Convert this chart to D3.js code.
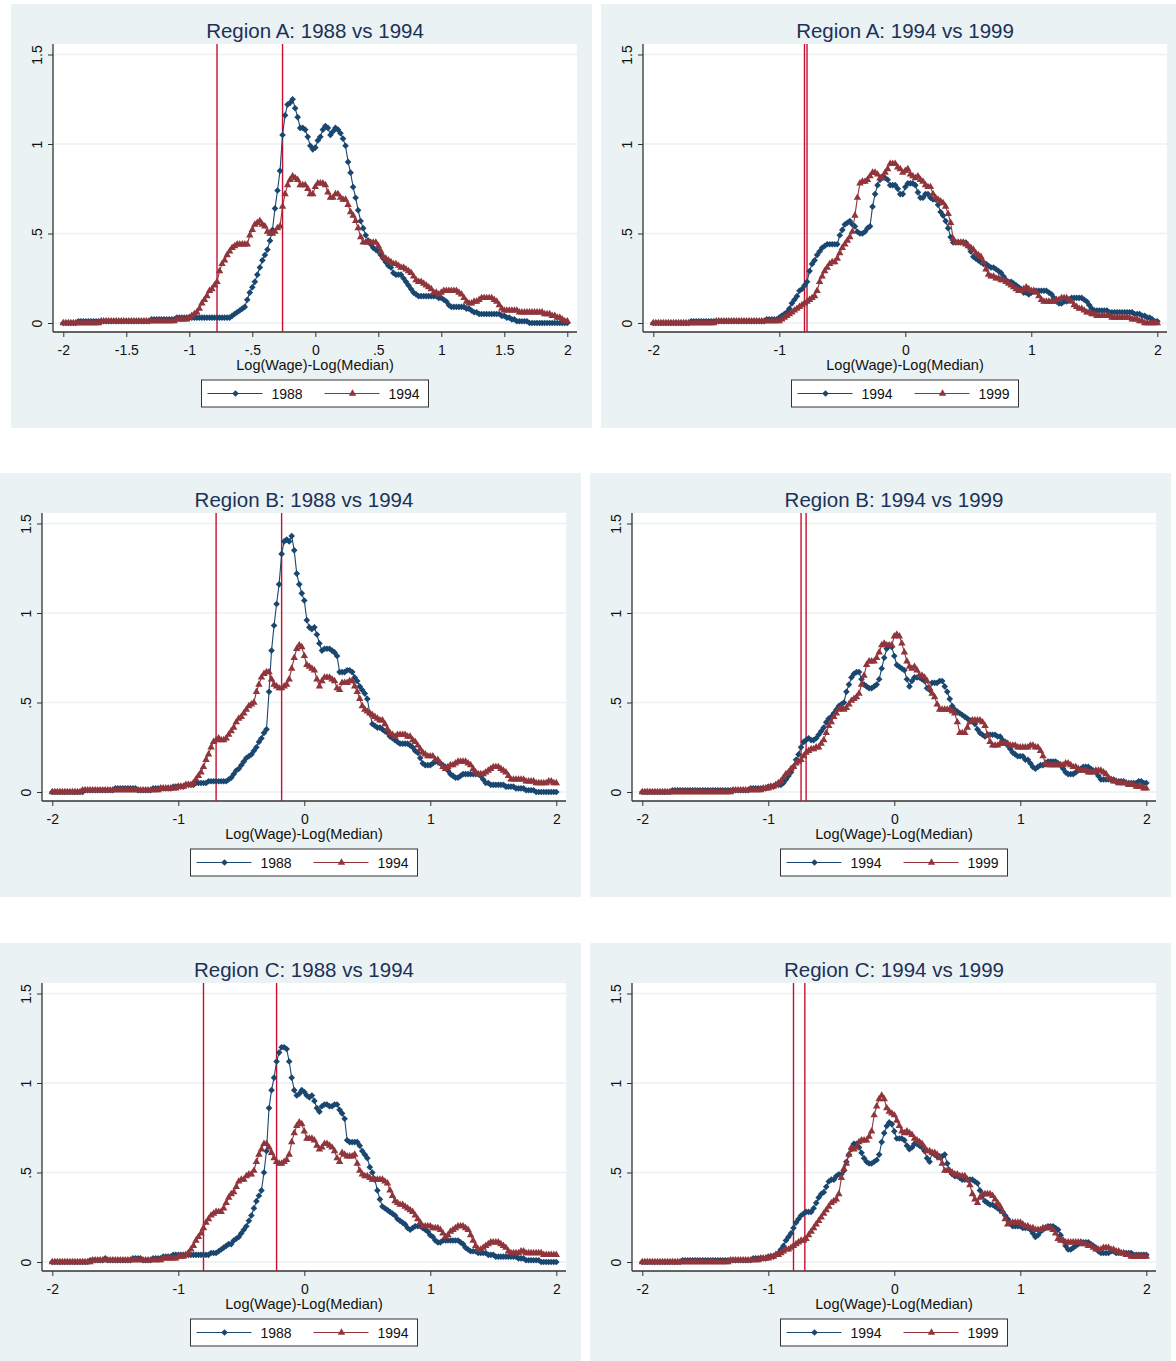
<!DOCTYPE html>
<html>
<head>
<meta charset="utf-8">
<script src="https://cdn.jsdelivr.net/npm/d3@7"></script>
<style>
  body { margin: 0; background: #fff; }
  svg { display: block; }
  text { font-family: "Liberation Sans", Arial, sans-serif; }
</style>
</head>
<body>
<svg id="chart" width="1176" height="1361"></svg>
<script>
'use strict';

// kernel grid: -2 .. 2, step .02 (201 points)
var xGrid = d3.range(201).map(function(i) { return Math.round((-2 + i * 0.02) * 100) / 100; });

// densities, one row = 10 grid points
var regionA88 = [
  0,0,0,0,0,0,.01,.01,.01,.01,
  .01,.01,.01,.01,.01,.01,.01,.01,.01,.01,
  .01,.01,.01,.01,.01,.01,.01,.01,.01,.01,
  .01,.01,.01,.01,.01,.02,.02,.02,.02,.02,
  .02,.02,.02,.02,.02,.03,.03,.03,.03,.03,
  .03,.03,.03,.03,.03,.03,.03,.03,.03,.03,
  .03,.03,.03,.03,.03,.03,.03,.04,.05,.06,
  .07,.08,.09,.13,.17,.20,.23,.27,.31,.35,
  .38,.41,.46,.52,.64,.74,.85,1.05,1.16,1.22,
  1.23,1.25,1.20,1.15,1.09,1.09,1.08,1.04,.99,.97,
  .98,1.02,1.04,1.08,1.10,1.09,1.05,1.07,1.09,1.08,
  1.06,1.03,.99,.90,.84,.76,.70,.63,.57,.53,
  .49,.46,.44,.42,.41,.40,.38,.36,.34,.32,
  .31,.28,.27,.27,.27,.25,.23,.21,.19,.17,
  .16,.15,.15,.15,.15,.15,.15,.15,.15,.14,
  .14,.13,.12,.10,.09,.09,.09,.09,.09,.09,
  .08,.08,.07,.06,.06,.05,.05,.05,.05,.05,
  .05,.05,.05,.05,.04,.04,.03,.03,.02,.02,
  .01,.01,.01,.01,.01,0,0,0,0,0,
  0,0,0,0,0,0,0,0,0,0,
  0
];
var regionA94 = [
  0,0,0,0,0,0,0,0,0,0,
  0,0,0,0,0,.01,.01,.01,.01,.01,
  .01,.01,.01,.01,.01,.01,.01,.01,.01,.01,
  .01,.01,.01,.01,.01,.01,.01,.01,.01,.01,
  .01,.01,.01,.01,.01,.02,.02,.02,.02,.02,
  .03,.04,.05,.06,.08,.11,.13,.15,.18,.19,
  .21,.23,.29,.33,.35,.38,.40,.42,.43,.44,
  .44,.44,.44,.44,.49,.52,.55,.56,.57,.55,
  .54,.51,.50,.50,.51,.53,.54,.65,.72,.77,
  .80,.82,.81,.80,.77,.77,.77,.75,.72,.72,
  .76,.78,.78,.78,.77,.73,.70,.70,.72,.72,
  .70,.69,.69,.66,.62,.60,.57,.53,.48,.45,
  .45,.45,.45,.45,.45,.43,.40,.37,.36,.35,
  .34,.33,.33,.32,.31,.31,.30,.29,.28,.26,
  .24,.23,.23,.22,.21,.20,.19,.17,.17,.16,
  .17,.18,.18,.18,.18,.18,.18,.17,.16,.14,
  .12,.11,.11,.12,.12,.13,.14,.14,.14,.14,
  .14,.13,.12,.10,.08,.07,.07,.07,.07,.07,
  .07,.06,.06,.06,.06,.06,.06,.06,.06,.06,
  .06,.05,.05,.05,.04,.04,.03,.03,.02,.01,
  .01
];
var regionA99 = [
  0,0,0,0,0,0,0,0,0,0,
  0,0,0,0,0,0,0,0,0,0,
  0,0,0,0,0,.01,.01,.01,.01,.01,
  .01,.01,.01,.01,.01,.01,.01,.01,.01,.01,
  .01,.01,.01,.01,.01,.01,.01,.01,.01,.01,
  .01,.02,.03,.04,.05,.06,.07,.08,.09,.10,
  .11,.12,.13,.14,.15,.18,.23,.26,.29,.31,
  .33,.34,.34,.36,.39,.42,.44,.46,.48,.51,
  .60,.70,.78,.79,.79,.80,.82,.84,.84,.83,
  .81,.81,.84,.86,.89,.89,.89,.87,.86,.84,
  .85,.86,.83,.82,.81,.82,.80,.79,.77,.76,
  .76,.72,.70,.69,.68,.67,.65,.61,.56,.47,
  .45,.45,.45,.45,.44,.43,.42,.41,.39,.38,
  .37,.34,.30,.27,.26,.26,.25,.25,.24,.24,
  .23,.22,.21,.20,.19,.18,.18,.19,.20,.19,
  .18,.18,.17,.15,.13,.12,.12,.12,.12,.12,
  .13,.13,.14,.14,.14,.13,.12,.10,.09,.08,
  .08,.07,.06,.06,.05,.05,.04,.04,.04,.04,
  .04,.04,.03,.03,.03,.03,.03,.03,.03,.03,
  .02,.02,.02,.01,.01,0,0,0,0,0,
  0
];
var regionB88 = [
  0,0,0,0,0,0,0,0,0,0,
  0,0,0,.01,.01,.01,.01,.01,.01,.01,
  .01,.01,.01,.01,.01,.02,.02,.02,.02,.02,
  .02,.02,.02,.02,.01,.01,.01,.01,.01,.01,
  .02,.02,.02,.02,.02,.02,.02,.02,.03,.03,
  .03,.03,.03,.04,.04,.04,.04,.05,.05,.05,
  .05,.05,.06,.06,.06,.06,.06,.06,.06,.06,
  .07,.08,.10,.12,.13,.15,.17,.19,.20,.21,
  .23,.25,.28,.30,.33,.35,.56,.79,.93,1.05,
  1.16,1.33,1.40,1.41,1.40,1.43,1.35,1.22,1.16,1.11,
  1.07,.96,.92,.91,.92,.88,.83,.79,.80,.80,
  .80,.79,.78,.76,.67,.67,.67,.68,.68,.67,
  .64,.62,.59,.57,.55,.52,.44,.38,.37,.36,
  .36,.35,.34,.33,.31,.30,.29,.28,.27,.27,
  .27,.27,.26,.25,.23,.22,.19,.16,.15,.15,
  .15,.16,.17,.17,.16,.15,.14,.12,.10,.09,
  .08,.08,.09,.10,.10,.10,.10,.10,.10,.10,
  .09,.07,.05,.05,.04,.04,.04,.04,.04,.04,
  .03,.03,.03,.03,.02,.02,.02,.02,.01,.01,
  .01,.01,0,0,0,0,0,0,0,0,
  0
];
var regionB94 = [
  0,0,0,0,0,0,0,0,0,0,
  0,0,.01,.01,.01,.01,.01,.01,.01,.01,
  .01,.01,.01,.01,.01,.01,.01,.01,.01,.01,
  .01,.01,.01,.01,.01,.01,.01,.01,.01,.01,
  .01,.01,.01,.02,.02,.02,.02,.02,.02,.02,
  .03,.03,.03,.04,.04,.04,.05,.07,.09,.11,
  .14,.18,.21,.25,.28,.29,.30,.29,.29,.30,
  .32,.34,.36,.39,.41,.42,.44,.46,.48,.49,
  .50,.56,.60,.64,.66,.67,.67,.63,.60,.59,
  .58,.58,.59,.60,.63,.69,.75,.80,.82,.81,
  .76,.71,.70,.69,.68,.63,.59,.62,.64,.64,
  .64,.63,.62,.58,.57,.61,.61,.61,.62,.62,
  .59,.56,.52,.48,.46,.45,.44,.43,.42,.41,
  .40,.40,.38,.35,.33,.32,.31,.32,.32,.32,
  .32,.31,.31,.29,.28,.26,.24,.22,.21,.20,
  .20,.20,.18,.18,.16,.14,.13,.14,.15,.15,
  .16,.17,.17,.17,.17,.16,.15,.13,.11,.10,
  .10,.10,.11,.12,.13,.14,.14,.14,.13,.12,
  .11,.09,.07,.07,.07,.07,.07,.07,.06,.06,
  .06,.06,.05,.05,.05,.05,.05,.06,.06,.05,
  .05
];
var regionB99 = [
  0,0,0,0,0,0,0,0,0,0,
  0,0,0,0,0,0,0,0,0,0,
  0,0,0,0,0,0,0,0,0,0,
  0,0,0,0,0,0,.01,.01,.01,.01,
  .01,.01,.01,.01,.01,.01,.01,.01,.02,.02,
  .02,.03,.03,.04,.05,.06,.08,.10,.11,.13,
  .14,.16,.17,.18,.20,.22,.23,.24,.24,.25,
  .25,.27,.29,.33,.37,.39,.42,.44,.46,.47,
  .46,.47,.49,.51,.52,.53,.55,.60,.65,.71,
  .73,.73,.73,.75,.78,.82,.83,.82,.82,.82,
  .87,.88,.87,.83,.78,.73,.70,.69,.70,.68,
  .65,.65,.64,.62,.58,.55,.53,.49,.46,.46,
  .46,.46,.46,.45,.44,.39,.33,.33,.33,.36,
  .39,.40,.40,.40,.40,.39,.37,.32,.28,.26,
  .26,.26,.27,.27,.27,.27,.26,.26,.26,.25,
  .25,.25,.25,.25,.26,.26,.25,.25,.23,.20,
  .16,.15,.15,.15,.15,.15,.15,.15,.16,.16,
  .15,.14,.14,.13,.12,.12,.12,.11,.11,.11,
  .12,.12,.12,.11,.10,.08,.07,.06,.06,.05,
  .05,.05,.05,.04,.04,.04,.03,.03,.03,.02,
  .02
];
var regionC88 = [
  0,0,0,0,0,0,0,0,0,0,
  0,0,0,0,0,.01,.01,.01,.01,.01,
  .01,.02,.01,.01,.01,.01,.01,.01,.01,.01,
  .01,.01,.02,.02,.02,.02,.01,.01,.01,.01,
  .02,.02,.02,.02,.03,.03,.03,.03,.04,.04,
  .04,.04,.04,.04,.04,.04,.04,.04,.04,.04,
  .04,.04,.04,.05,.05,.05,.06,.07,.08,.09,
  .10,.10,.12,.13,.14,.16,.18,.20,.23,.26,
  .30,.34,.37,.40,.50,.62,.86,.96,1.03,1.12,
  1.17,1.20,1.20,1.19,1.12,1.03,.96,.93,.94,.96,
  .95,.93,.92,.93,.90,.86,.84,.87,.88,.88,
  .87,.87,.88,.88,.85,.83,.80,.68,.67,.67,
  .67,.67,.65,.62,.60,.58,.53,.50,.46,.40,
  .35,.31,.30,.29,.28,.27,.26,.24,.23,.22,
  .21,.19,.18,.19,.20,.20,.20,.19,.18,.17,
  .15,.14,.12,.11,.11,.12,.12,.12,.12,.12,
  .12,.12,.11,.10,.08,.07,.06,.06,.06,.05,
  .05,.05,.05,.04,.04,.04,.03,.03,.03,.03,
  .03,.03,.03,.03,.03,.02,.02,.02,.01,.01,
  .01,.01,.01,.01,0,0,0,0,0,0,
  0
];
var regionC94 = [
  0,0,0,0,0,0,0,0,0,0,
  0,0,0,0,0,0,.01,.01,.01,.01,
  .01,.01,.01,.01,.01,.01,.01,.01,.01,.01,
  .01,.01,.01,.01,.01,.01,.01,.01,.01,.01,
  .01,.01,.01,.01,.02,.02,.02,.02,.02,.02,
  .03,.03,.03,.04,.05,.07,.09,.12,.14,.16,
  .19,.22,.24,.26,.27,.28,.28,.28,.30,.33,
  .36,.38,.39,.42,.45,.46,.46,.48,.49,.49,
  .51,.56,.60,.63,.66,.66,.64,.61,.58,.56,
  .55,.55,.56,.57,.60,.67,.72,.76,.78,.77,
  .73,.69,.69,.69,.68,.65,.63,.64,.66,.66,
  .65,.64,.62,.58,.56,.61,.60,.59,.59,.59,
  .60,.55,.51,.49,.48,.48,.47,.46,.46,.46,
  .46,.46,.45,.44,.40,.37,.34,.33,.32,.32,
  .31,.30,.29,.28,.26,.24,.22,.20,.20,.20,
  .20,.19,.19,.19,.18,.16,.14,.15,.17,.18,
  .19,.20,.20,.20,.19,.18,.15,.12,.09,.07,
  .07,.08,.09,.10,.11,.11,.11,.11,.10,.09,
  .08,.06,.05,.05,.05,.05,.06,.06,.05,.05,
  .05,.05,.05,.05,.05,.04,.04,.04,.04,.04,
  .04
];
var regionC99 = [
  0,0,0,0,0,0,0,0,0,0,
  0,0,0,0,0,0,0,0,0,0,
  0,0,0,0,0,0,0,0,0,0,
  0,0,0,0,0,.01,.01,.01,.01,.01,
  .01,.01,.01,.01,.01,.01,.01,.02,.02,.02,
  .02,.03,.03,.04,.04,.05,.06,.07,.07,.08,
  .09,.10,.11,.12,.12,.13,.15,.17,.19,.21,
  .23,.25,.27,.29,.31,.33,.34,.35,.38,.47,
  .52,.55,.60,.64,.63,.64,.67,.68,.68,.68,
  .70,.73,.82,.87,.91,.93,.91,.86,.84,.83,
  .82,.79,.76,.73,.72,.73,.72,.71,.69,.68,
  .67,.66,.64,.62,.62,.61,.61,.60,.58,.55,
  .51,.51,.51,.50,.49,.49,.48,.48,.48,.46,
  .43,.38,.35,.33,.36,.38,.38,.38,.38,.37,
  .35,.33,.31,.28,.24,.21,.22,.22,.22,.22,
  .22,.21,.20,.20,.19,.19,.18,.18,.18,.19,
  .19,.19,.19,.18,.16,.13,.12,.12,.11,.11,
  .11,.11,.11,.11,.11,.10,.10,.09,.09,.08,
  .07,.07,.07,.08,.08,.08,.07,.07,.06,.06,
  .05,.05,.04,.04,.03,.03,.03,.03,.03,.03,
  .03
];

var yTicks = [0, .5, 1, 1.5];
var xTicksFine = [-2, -1.5, -1, -.5, 0, .5, 1, 1.5, 2];
var xTicksCoarse = [-2, -1, 0, 1, 2];

var panels = [
  { title: 'Region A: 1988 vs 1994', left: regionA88, right: regionA94, years: ['1988', '1994'], xlines: [-.78, -.26], xticks: xTicksFine,   x: 11,  y: 4 },
  { title: 'Region A: 1994 vs 1999', left: regionA94, right: regionA99, years: ['1994', '1999'], xlines: [-.80, -.78], xticks: xTicksCoarse, x: 601, y: 4 },
  { title: 'Region B: 1988 vs 1994', left: regionB88, right: regionB94, years: ['1988', '1994'], xlines: [-.70, -.18], xticks: xTicksCoarse, x: 0,   y: 473 },
  { title: 'Region B: 1994 vs 1999', left: regionB94, right: regionB99, years: ['1994', '1999'], xlines: [-.74, -.70], xticks: xTicksCoarse, x: 590, y: 473 },
  { title: 'Region C: 1988 vs 1994', left: regionC88, right: regionC94, years: ['1988', '1994'], xlines: [-.80, -.22], xticks: xTicksCoarse, x: 0,   y: 943 },
  { title: 'Region C: 1994 vs 1999', left: regionC94, right: regionC99, years: ['1994', '1999'], xlines: [-.80, -.71], xticks: xTicksCoarse, x: 590, y: 943 }
];

var W = 581, H = 424;
var plot = { left: 42, right: 566, top: 40, bottom: 328 };
var mid = (plot.left + plot.right) / 2;
var navy = '#1a476f', maroon = '#90353b', lineRed = '#c8102e', bg = '#eaf2f3';

var diamond = d3.symbol(d3.symbolSquare, 22);
var triangle = d3.symbol(d3.symbolTriangle, 24);

function fmt(v) {
  return String(+v.toFixed(2)).replace(/^(-?)0\./, '$1.');
}

var svg = d3.select('#chart');

panels.forEach(function(p) {
  var g = svg.append('g').attr('transform', 'translate(' + p.x + ',' + p.y + ')');

  var x = d3.scaleLinear().domain([-2, 2]).range([52.3, 556.3]);
  var y = d3.scaleLinear().domain([0, 1.5]).range([319, 50.5]);

  g.append('rect').attr('width', W).attr('height', H).attr('fill', bg);
  g.append('rect')
    .attr('x', plot.left).attr('y', plot.top)
    .attr('width', plot.right - plot.left).attr('height', plot.bottom - plot.top)
    .attr('fill', '#fff');

  g.append('g').selectAll('line').data(yTicks).join('line')
    .attr('x1', plot.left).attr('x2', plot.right)
    .attr('y1', function(d) { return y(d); })
    .attr('y2', function(d) { return y(d); })
    .attr('stroke', bg).attr('stroke-width', 1.3);

  // x axis
  var gx = g.append('g')
    .attr('transform', 'translate(0,' + plot.bottom + ')')
    .call(d3.axisBottom(x).tickValues(p.xticks).tickSize(5).tickSizeOuter(0).tickPadding(8).tickFormat(fmt));
  gx.select('.domain').remove();
  gx.selectAll('line').attr('stroke', '#333');
  gx.selectAll('text').attr('font-size', 14).attr('fill', '#111')
    .attr('font-family', '"Liberation Sans", Arial, sans-serif');
  gx.append('line').attr('x1', plot.left).attr('x2', plot.right)
    .attr('stroke', '#333').attr('stroke-width', 1.3);

  // y axis
  var gy = g.append('g')
    .attr('transform', 'translate(' + plot.left + ',0)')
    .call(d3.axisLeft(y).tickValues(yTicks).tickSize(5).tickSizeOuter(0).tickFormat(fmt));
  gy.select('.domain').remove();
  gy.selectAll('line').attr('stroke', '#333');
  gy.selectAll('text')
    .attr('x', null).attr('dy', '0.35em')
    .attr('text-anchor', 'middle')
    .attr('transform', 'translate(-16,0) rotate(-90)')
    .attr('font-size', 14).attr('fill', '#111')
    .attr('font-family', '"Liberation Sans", Arial, sans-serif');
  gy.append('line').attr('y1', plot.top).attr('y2', plot.bottom)
    .attr('stroke', '#333').attr('stroke-width', 1.3);

  // reference lines
  g.append('g').selectAll('line').data(p.xlines).join('line')
    .attr('x1', function(d) { return x(d); })
    .attr('x2', function(d) { return x(d); })
    .attr('y1', plot.top).attr('y2', plot.bottom)
    .attr('stroke', lineRed).attr('stroke-width', 1.4);

  var line = d3.line()
    .x(function(d, i) { return x(xGrid[i]); })
    .y(function(d) { return y(d); });

  function series(values, color, sym, rot) {
    var s = g.append('g');
    s.append('path').datum(values)
      .attr('d', line).attr('fill', 'none')
      .attr('stroke', color).attr('stroke-width', 1.1);
    s.selectAll('path.m').data(values).join('path')
      .attr('class', 'm')
      .attr('d', sym)
      .attr('transform', function(d, i) {
        return 'translate(' + x(xGrid[i]) + ',' + y(d) + ')' + (rot ? ' rotate(45)' : '');
      })
      .attr('fill', color);
  }
  series(p.left, navy, diamond, true);
  series(p.right, maroon, triangle, false);

  g.append('text')
    .attr('x', mid).attr('y', 34)
    .attr('text-anchor', 'middle')
    .attr('font-size', 20.5).attr('fill', '#1c3158')
    .text(p.title);

  g.append('text')
    .attr('x', mid).attr('y', 366)
    .attr('text-anchor', 'middle')
    .attr('font-size', 14.5).attr('fill', '#111')
    .text('Log(Wage)-Log(Median)');

  // legend
  var lg = g.append('g').attr('transform', 'translate(' + (mid - 113.5) + ',376)');
  lg.append('rect').attr('width', 227).attr('height', 27)
    .attr('fill', '#fff').attr('stroke', '#333').attr('stroke-width', 1);
  var items = [
    { x0: 6, color: navy, sym: diamond, rot: true, label: p.years[0] },
    { x0: 123, color: maroon, sym: triangle, rot: false, label: p.years[1] }
  ];
  items.forEach(function(it) {
    lg.append('line').attr('x1', it.x0).attr('x2', it.x0 + 55)
      .attr('y1', 13.5).attr('y2', 13.5)
      .attr('stroke', it.color).attr('stroke-width', 1.2);
    lg.append('path').attr('d', it.sym)
      .attr('transform', 'translate(' + (it.x0 + 28) + ',13.5)' + (it.rot ? ' rotate(45)' : ''))
      .attr('fill', it.color);
    lg.append('text').attr('x', it.x0 + 64).attr('y', 18.5)
      .attr('font-size', 14).attr('fill', '#111')
      .text(it.label);
  });
});

[regionA88, regionA94, regionA99, regionB88, regionB94, regionB99, regionC88, regionC94, regionC99]
  .forEach(function(a, i) { if (a.length !== xGrid.length) console.warn('series ' + i + ' has ' + a.length); });
</script>
</body>
</html>
